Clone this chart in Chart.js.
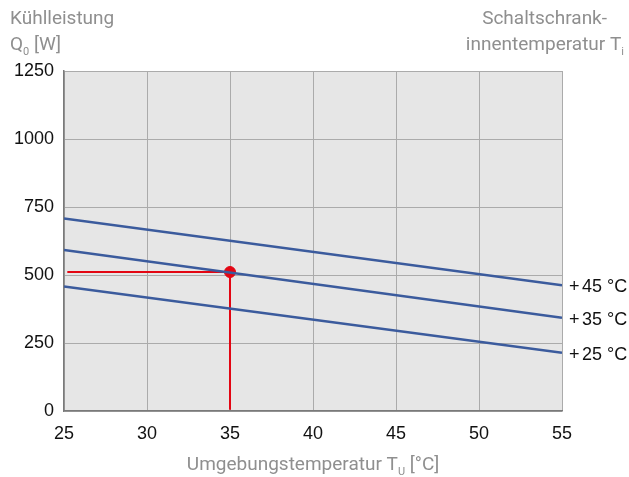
<!DOCTYPE html>
<html>
<head>
<meta charset="utf-8">
<script src="https://cdn.jsdelivr.net/npm/chart.js@4"></script>
<style>
  html, body { margin: 0; padding: 0; background: #fff; }
  #wrap { width: 629px; height: 477px; position: relative; }
</style>
</head>
<body>
<div id="wrap"><canvas id="coolingChart"></canvas></div>
<script>
// ===== Data =====
const ambientTemp = [25, 55];          // Umgebungstemperatur T_U [°C]
const power45 = [708, 462];            // Q0 [W] at +45 °C
const power35 = [592, 343];            // Q0 [W] at +35 °C
const power25 = [458, 214];            // Q0 [W] at +25 °C
const seriesTemps = ["45", "35", "25"];
const xTicks = [25, 30, 35, 40, 45, 50, 55];
const yTicks = [0, 250, 500, 750, 1000, 1250];
const opTemp = [35];                   // operating point
const opPower = [511];

const BLUE = "#3b5b9d";
const RED = "#e30613";
const GREY_TEXT = "#8f8f8f";
const TITLE_FONT = "Roboto, sans-serif";
const TICK_FONT = "Liberation Sans, Arial, sans-serif";

function toPoints(xs, ys) {
  return xs.map(function (x, i) {
    return { x: x, y: ys[i] };
  });
}

// Background of the plot area
const plotBackground = {
  id: "plotBackground",
  beforeDraw: function (chart) {
    const a = chart.chartArea;
    const ctx = chart.ctx;
    ctx.save();
    ctx.fillStyle = "#e6e6e6";
    ctx.fillRect(a.left, a.top, a.right - a.left, a.bottom - a.top);
    ctx.restore();
  },
};

// Text with a small subscript after it
function drawSub(ctx, parts, x, y, align) {
  // parts: [text, sub, text, ...]
  const big = "19px " + TITLE_FONT;
  const small = "11px " + TITLE_FONT;
  let total = 0;
  parts.forEach(function (p, i) {
    ctx.font = i % 2 ? small : big;
    total += ctx.measureText(p).width;
  });
  let cx = align === "right" ? x - total : align === "center" ? x - total / 2 : x;
  parts.forEach(function (p, i) {
    ctx.font = i % 2 ? small : big;
    ctx.fillText(p, cx, i % 2 ? y + 5 : y);
    cx += ctx.measureText(p).width;
  });
}

// Axis titles and the series labels at the right end of each line
const chartTexts = {
  id: "chartTexts",
  afterDraw: function (chart) {
    const ctx = chart.ctx;
    const a = chart.chartArea;
    const yScale = chart.scales.y;
    ctx.save();
    ctx.fillStyle = GREY_TEXT;
    ctx.textBaseline = "alphabetic";
    ctx.textAlign = "left";
    drawSub(ctx, ["Kühlleistung"], 10, 24, "left");
    drawSub(ctx, ["Q", "0", " [W]"], 10, 50, "left");
    drawSub(ctx, ["Schaltschrank-"], 607, 24, "right");
    drawSub(ctx, ["innentemperatur T", "i"], 624, 50, "right");
    drawSub(ctx, ["Umgebungstemperatur T", "U", " [°C]"], (a.left + a.right) / 2, 470, "center");

    ctx.fillStyle = "#111";
    ctx.font = "18px " + TICK_FONT;
    ctx.textBaseline = "middle";
    const ends = [power45, power35, power25];
    ends.forEach(function (arr, i) {
      const y = yScale.getPixelForValue(arr[arr.length - 1]) + 2;
      const x0 = a.right + 7;
      ctx.fillText("+", x0, y);
      ctx.fillText(seriesTemps[i], x0 + 13, y);
      ctx.fillText("°C", x0 + 38, y);
    });
    ctx.restore();
  },
};

const config = {
  type: "line",
  data: {
    datasets: [
      { data: toPoints(ambientTemp, power45), borderColor: BLUE, borderWidth: 2.5, pointRadius: 0 },
      { data: toPoints(ambientTemp, power35), borderColor: BLUE, borderWidth: 2.5, pointRadius: 0 },
      { data: toPoints(ambientTemp, power25), borderColor: BLUE, borderWidth: 2.5, pointRadius: 0 },
      {
        data: [{ x: 25.2, y: opPower[0] }, { x: opTemp[0], y: opPower[0] }],
        borderColor: RED, borderWidth: 2, pointRadius: 0,
      },
      {
        data: [{ x: opTemp[0], y: opPower[0] }, { x: opTemp[0], y: 5 }],
        borderColor: RED, borderWidth: 2, pointRadius: 0,
      },
      {
        data: toPoints(opTemp, opPower),
        borderColor: RED, backgroundColor: RED, pointRadius: 5.5, showLine: false,
      },
    ],
  },
  options: {
    responsive: true,
    maintainAspectRatio: false,
    animation: false,
    layout: { padding: { top: 71, right: 67, left: 0, bottom: 0 } },
    plugins: { legend: { display: false }, tooltip: { enabled: false } },
    scales: {
      x: {
        type: "linear",
        min: xTicks[0],
        max: xTicks[xTicks.length - 1],
        afterBuildTicks: function (axis) {
          axis.ticks = xTicks.map(function (v) { return { value: v }; });
        },
        afterFit: function (axis) { axis.height = 66; },
        grid: { color: "#ababab", lineWidth: 1, drawTicks: false },
        border: { color: "#7a7a7a", width: 1.5 },
        ticks: {
          color: "#111", font: { size: 18, family: TICK_FONT }, padding: 12,
          callback: function (v) { return String(v); },
        },
      },
      y: {
        min: yTicks[0],
        max: yTicks[yTicks.length - 1],
        afterBuildTicks: function (axis) {
          axis.ticks = yTicks.map(function (v) { return { value: v }; });
        },
        afterFit: function (axis) { axis.width = 64; },
        grid: { color: "#ababab", lineWidth: 1, drawTicks: false },
        border: { color: "#7a7a7a", width: 1.5 },
        ticks: {
          color: "#111", font: { size: 18, family: TICK_FONT }, padding: 10,
          callback: function (v) { return String(v); },
        },
      },
    },
  },
  plugins: [plotBackground, chartTexts],
};

new Chart(document.getElementById("coolingChart"), config);
</script>
</body>
</html>
